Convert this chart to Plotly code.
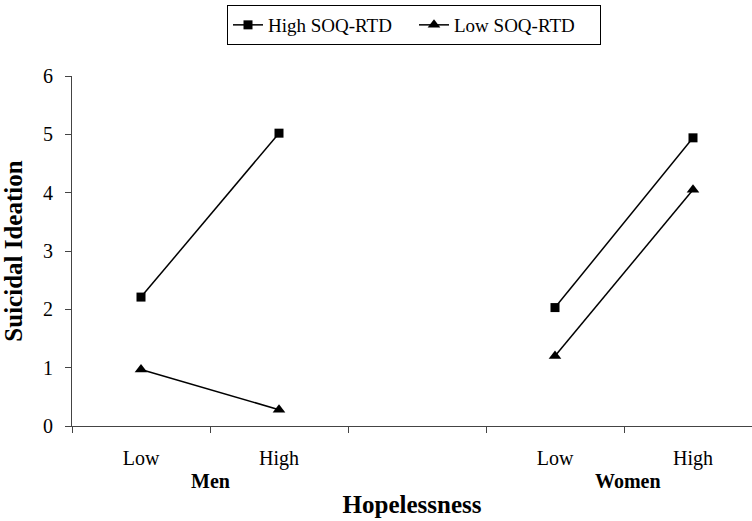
import plotly.graph_objects as go

categories = ["Men Low", "Men High", "gap", "Women Low", "Women High"]
tick_labels = ["Low", "High", "", "Low", "High"]
high_soq = [2.21, 5.02, None, 2.03, 4.94]
low_soq = [0.97, 0.28, None, 1.20, 4.05]
group_labels = ["Men", "Women"]
group_pos = [0.5, 3.53]

FONT = "Liberation Serif"

fig = go.Figure()
fig.add_trace(go.Scatter(
    x=categories, y=high_soq, name="High SOQ-RTD", mode="lines+markers",
    line=dict(color="black", width=1.5),
    marker=dict(symbol="square", size=9, color="black"),
    connectgaps=False,
))
fig.add_trace(go.Scatter(
    x=categories, y=low_soq, name="Low SOQ-RTD", mode="lines+markers",
    line=dict(color="black", width=1.5),
    marker=dict(symbol="triangle-up", size=11, color="black"),
    connectgaps=False,
))

for lab, pos in zip(group_labels, group_pos):
    fig.add_annotation(
        x=pos, y=0, xref="x", yref="y", text="<b>%s</b>" % lab,
        showarrow=False, yshift=-55, font=dict(family=FONT, size=20, color="black"),
    )

fig.update_layout(
    width=752, height=521,
    margin=dict(l=72, r=0, t=76, b=95, autoexpand=False),
    paper_bgcolor="white", plot_bgcolor="white",
    font=dict(family=FONT, color="black"),
    showlegend=True,
    legend=dict(
        orientation="h", xref="container", yref="container",
        x=227 / 752, xanchor="left", y=1 - 5 / 521, yanchor="top",
        bordercolor="black", borderwidth=1,
        font=dict(family=FONT, size=19, color="black"),
        itemwidth=30, entrywidth=141,
    ),
    xaxis=dict(
        type="category", categoryorder="array", categoryarray=categories,
        tickvals=categories, ticktext=tick_labels,
        tickson="boundaries", ticks="outside", ticklen=6, tickcolor="#444",
        showline=True, linecolor="#444", linewidth=1,
        showgrid=False, zeroline=False, automargin=False,
        range=[-0.5, -0.5 + 680 / 138],
        tickfont=dict(family=FONT, size=20, color="black"),
        ticklabelstandoff=14,
        title=dict(text="<b>Hopelessness</b>", font=dict(family=FONT, size=25, color="black"), standoff=26),
    ),
    yaxis=dict(
        range=[0, 6], dtick=1, ticks="outside", ticklen=6, tickcolor="#444",
        showline=True, linecolor="#444", linewidth=1,
        showgrid=False, zeroline=False, automargin=False,
        tickfont=dict(family=FONT, size=20, color="black"),
        ticklabelstandoff=8,
        title=dict(text="<b>Suicidal Ideation</b>", font=dict(family=FONT, size=25, color="black"), standoff=14),
    ),
)

fig.write_html("out.html", config={"displayModeBar": False},
               post_script="document.body.style.margin='0';")
